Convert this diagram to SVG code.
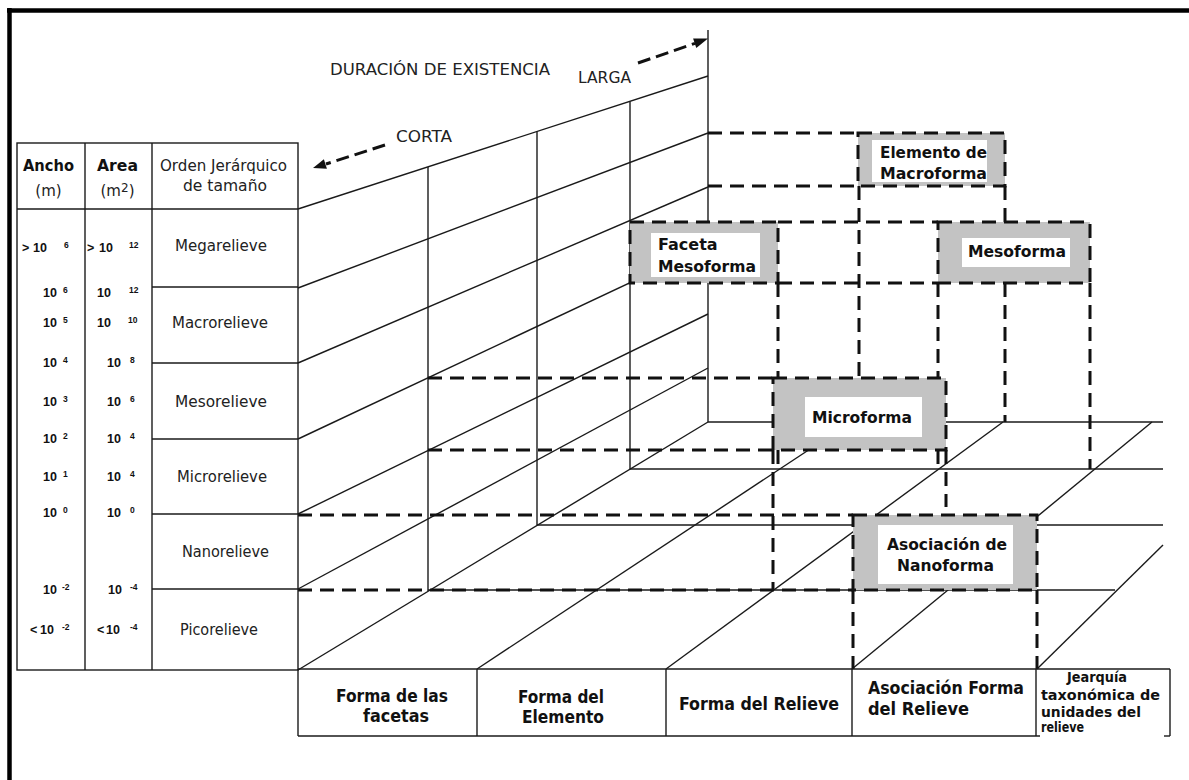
<svg xmlns="http://www.w3.org/2000/svg" width="1189" height="780" viewBox="0 0 1189 780">
<defs>
<style>
.ln{stroke:#1a1a1a;stroke-width:1.4;fill:none}
.dl{stroke:#111;stroke-width:3;stroke-dasharray:14 8;fill:none}
.ar{stroke:#111;stroke-width:3;stroke-dasharray:13 6;fill:none}
.box{fill:#c3c3c3;stroke:#111;stroke-width:3;stroke-dasharray:14 8}
.inner{fill:#fff}
.bx{font-family:'DejaVu Sans','Liberation Sans',sans-serif;font-weight:bold;font-size:16px;fill:#111}
.reg{font-family:'DejaVu Sans','Liberation Sans',sans-serif;font-size:15px;fill:#222}
.hb{font-family:'DejaVu Sans','Liberation Sans',sans-serif;font-weight:bold;font-size:15px;fill:#111}
.top{font-family:'DejaVu Sans','Liberation Sans',sans-serif;font-size:16px;fill:#222}
.num{font-family:'Liberation Sans',Arial,sans-serif;font-weight:bold;font-size:12.5px;fill:#111}
.sup{font-family:'Liberation Sans',Arial,sans-serif;font-weight:bold;font-size:8.5px;fill:#111}
.bt{font-family:'Liberation Sans Narrow','DejaVu Sans Condensed','Liberation Sans',sans-serif;font-weight:bold;font-size:18px;fill:#111}
.bs{font-family:'Liberation Sans Narrow','DejaVu Sans Condensed','Liberation Sans',sans-serif;font-weight:bold;font-size:14px;fill:#111}
</style>
</defs>
<rect x="0" y="0" width="1189" height="780" fill="#fff"/>

<g id="frame">
<line x1="7" y1="10.5" x2="1189" y2="10.5" stroke="#000" stroke-width="4.5"/>
<line x1="9.5" y1="8" x2="9.5" y2="780" stroke="#000" stroke-width="4.5"/>
</g>

<g id="grid" class="ln">
<line x1="298" y1="209" x2="708" y2="76"/>
<line x1="298" y1="288" x2="708" y2="133"/>
<line x1="298" y1="363" x2="708" y2="187"/>
<line x1="298" y1="439" x2="708" y2="246"/>
<line x1="298" y1="514" x2="708" y2="314"/>
<line x1="298" y1="589" x2="708" y2="368"/>
<line x1="298" y1="670" x2="708" y2="422"/>
<line x1="428" y1="167" x2="428" y2="591"/>
<line x1="537" y1="131.5" x2="537" y2="525"/>
<line x1="630" y1="101.5" x2="630" y2="469"/>
<line x1="708" y1="30" x2="708" y2="422"/>
<line x1="428" y1="590" x2="1115" y2="590"/>
<line x1="537" y1="525" x2="1163" y2="525"/>
<line x1="630" y1="469" x2="1163" y2="469"/>
<line x1="708" y1="422" x2="1163" y2="422"/>
<line x1="477" y1="669" x2="851" y2="422"/>
<line x1="666" y1="669" x2="1003" y2="422"/>
<line x1="852" y1="669" x2="1152" y2="422"/>
<line x1="1037" y1="669" x2="1163" y2="545"/>
</g>

<g id="connectors" class="dl">
<line x1="708" y1="133" x2="858" y2="133"/>
<line x1="708" y1="186" x2="858" y2="186"/>
<line x1="778" y1="222" x2="938" y2="222"/>
<line x1="778" y1="283" x2="938" y2="283"/>
<line x1="859" y1="186" x2="859" y2="378"/>
<line x1="778" y1="283" x2="778" y2="378"/>
<line x1="778" y1="450" x2="778" y2="469"/>
<line x1="938" y1="283" x2="938" y2="378"/>
<line x1="938" y1="450" x2="938" y2="469"/>
<line x1="1005" y1="186" x2="1005" y2="222"/>
<line x1="1005" y1="283" x2="1005" y2="422"/>
<line x1="1090" y1="283" x2="1090" y2="469"/>
<line x1="428" y1="378" x2="773" y2="378"/>
<line x1="428" y1="450" x2="773" y2="450"/>
<line x1="773" y1="450" x2="773" y2="590"/>
<line x1="946" y1="450" x2="946" y2="507"/>
<line x1="298" y1="515" x2="853" y2="515"/>
<line x1="298" y1="590" x2="853" y2="590"/>
<line x1="853" y1="590" x2="853" y2="669"/>
<line x1="1037" y1="590" x2="1037" y2="669"/>
</g>

<g id="arrows">
<line class="ar" x1="638" y1="63" x2="695" y2="43.3"/>
<polygon points="708,38.5 696.3,48 693.1,38.6" fill="#111"/>
<line class="ar" x1="385" y1="145" x2="326" y2="164"/>
<polygon points="313,168 326.9,168.8 323.9,159.3" fill="#111"/>
</g>

<g id="headings">
<text class="top" x="330" y="75" textLength="220" lengthAdjust="spacingAndGlyphs">DURACIÓN DE EXISTENCIA</text>
<text class="top" x="578" y="83" textLength="53" lengthAdjust="spacingAndGlyphs">LARGA</text>
<text class="top" x="396" y="142" textLength="56" lengthAdjust="spacingAndGlyphs">CORTA</text>
</g>

<g id="table-left">
<rect class="ln" x="17" y="143" width="281" height="527"/>
<line class="ln" x1="85" y1="143" x2="85" y2="670"/>
<line class="ln" x1="152" y1="143" x2="152" y2="670"/>
<line class="ln" x1="17" y1="209" x2="298" y2="209"/>
<line class="ln" x1="152" y1="287" x2="298" y2="287"/>
<line class="ln" x1="152" y1="363" x2="298" y2="363"/>
<line class="ln" x1="152" y1="439" x2="298" y2="439"/>
<line class="ln" x1="152" y1="514" x2="298" y2="514"/>
<line class="ln" x1="152" y1="589" x2="298" y2="589"/>
<text class="hb" x="23" y="170.5" textLength="51" lengthAdjust="spacingAndGlyphs">Ancho</text>
<text class="reg" x="48.5" y="196" text-anchor="middle" font-size="16">(m)</text>
<text class="hb" x="97" y="170.5" textLength="41" lengthAdjust="spacingAndGlyphs">Area</text>
<text class="reg" x="117.5" y="196" text-anchor="middle" font-size="16">(m<tspan font-size="12" dy="-4">2</tspan><tspan dy="4">)</tspan></text>
<text class="reg" x="160" y="170.5" textLength="127" lengthAdjust="spacingAndGlyphs">Orden Jerárquico</text>
<text class="reg" x="183" y="191" textLength="84" lengthAdjust="spacingAndGlyphs">de tamaño</text>
<text class="reg" x="175" y="251" textLength="92" lengthAdjust="spacingAndGlyphs">Megarelieve</text>
<text class="reg" x="172" y="328" textLength="96" lengthAdjust="spacingAndGlyphs">Macrorelieve</text>
<text class="reg" x="175" y="407" textLength="92" lengthAdjust="spacingAndGlyphs">Mesorelieve</text>
<text class="reg" x="177" y="482" textLength="90" lengthAdjust="spacingAndGlyphs">Microrelieve</text>
<text class="reg" x="182" y="557" textLength="87" lengthAdjust="spacingAndGlyphs">Nanorelieve</text>
<text class="reg" x="180" y="635" textLength="78" lengthAdjust="spacingAndGlyphs">Picorelieve</text>
<text class="num" x="22" y="252">&gt;</text><text class="num" x="33" y="252">10</text><text class="sup" x="64" y="248">6</text>
<text class="num" x="43" y="297">10</text><text class="sup" x="63" y="293">6</text>
<text class="num" x="43" y="327">10</text><text class="sup" x="63" y="323">5</text>
<text class="num" x="43" y="367">10</text><text class="sup" x="63" y="363">4</text>
<text class="num" x="43" y="406">10</text><text class="sup" x="63" y="402">3</text>
<text class="num" x="43" y="443">10</text><text class="sup" x="63" y="439">2</text>
<text class="num" x="43" y="481">10</text><text class="sup" x="63" y="477">1</text>
<text class="num" x="43" y="517">10</text><text class="sup" x="63" y="513">0</text>
<text class="num" x="43" y="594">10</text><text class="sup" x="62" y="590">-2</text>
<text class="num" x="30" y="634">&lt;</text><text class="num" x="40" y="634">10</text><text class="sup" x="62" y="630">-2</text>
<text class="num" x="87" y="252">&gt;</text><text class="num" x="99" y="252">10</text><text class="sup" x="129" y="248">12</text>
<text class="num" x="97" y="297">10</text><text class="sup" x="129" y="293">12</text>
<text class="num" x="97" y="327">10</text><text class="sup" x="128" y="323">10</text>
<text class="num" x="107" y="367">10</text><text class="sup" x="130" y="363">8</text>
<text class="num" x="107" y="406">10</text><text class="sup" x="130" y="402">6</text>
<text class="num" x="107" y="443">10</text><text class="sup" x="130" y="439">4</text>
<text class="num" x="107" y="481">10</text><text class="sup" x="130" y="477">4</text>
<text class="num" x="107" y="517">10</text><text class="sup" x="130" y="513">0</text>
<text class="num" x="108" y="594">10</text><text class="sup" x="130" y="590">-4</text>
<text class="num" x="97" y="634">&lt;</text><text class="num" x="106" y="634">10</text><text class="sup" x="130" y="630">-4</text>
</g>

<g id="table-bottom">
<line class="ln" x1="298" y1="669" x2="1170" y2="669"/>
<line class="ln" x1="298" y1="736" x2="1040" y2="736"/>
<line class="ln" x1="1164" y1="736" x2="1170" y2="736"/>
<line class="ln" x1="298" y1="669" x2="298" y2="736"/>
<line class="ln" x1="477" y1="669" x2="477" y2="736"/>
<line class="ln" x1="666" y1="669" x2="666" y2="736"/>
<line class="ln" x1="852" y1="669" x2="852" y2="736"/>
<line class="ln" x1="1036" y1="669" x2="1036" y2="736"/>
<line class="ln" x1="1170" y1="669" x2="1170" y2="736"/>
<text class="bt" x="392" y="702" text-anchor="middle" textLength="112" lengthAdjust="spacingAndGlyphs">Forma de las</text>
<text class="bt" x="396" y="722" text-anchor="middle" textLength="66" lengthAdjust="spacingAndGlyphs">facetas</text>
<text class="bt" x="561" y="703" text-anchor="middle" textLength="86" lengthAdjust="spacingAndGlyphs">Forma del</text>
<text class="bt" x="563" y="723" text-anchor="middle" textLength="82" lengthAdjust="spacingAndGlyphs">Elemento</text>
<text class="bt" x="759" y="710" text-anchor="middle" textLength="160" lengthAdjust="spacingAndGlyphs">Forma del Relieve</text>
<text class="bt" x="868" y="694" textLength="156" lengthAdjust="spacingAndGlyphs">Asociación Forma</text>
<text class="bt" x="868" y="715" textLength="101" lengthAdjust="spacingAndGlyphs">del Relieve</text>
<text class="bs" x="1067" y="682" textLength="60" lengthAdjust="spacingAndGlyphs">Jearquía</text>
<text class="bs" x="1041" y="700" textLength="119" lengthAdjust="spacingAndGlyphs">taxonómica de</text>
<text class="bs" x="1041" y="717" textLength="100" lengthAdjust="spacingAndGlyphs">unidades del</text>
<text class="bs" x="1041" y="732" textLength="43" lengthAdjust="spacingAndGlyphs">relieve</text>
</g>

<g id="node-elemento-macroforma">
<rect class="box" x="858" y="133" width="147" height="53"/>
<rect class="inner" x="872" y="140" width="115" height="42"/>
<text class="bx" x="880" y="157.5" textLength="107" lengthAdjust="spacingAndGlyphs">Elemento de</text>
<text class="bx" x="880" y="179" textLength="107" lengthAdjust="spacingAndGlyphs">Macroforma</text>
</g>

<g id="node-faceta-mesoforma">
<rect class="box" x="630" y="222" width="148" height="61"/>
<rect class="inner" x="651" y="233" width="109" height="44"/>
<text class="bx" x="658" y="250">Faceta</text>
<text class="bx" x="658" y="272" textLength="98" lengthAdjust="spacingAndGlyphs">Mesoforma</text>
</g>

<g id="node-mesoforma">
<rect class="box" x="938" y="222" width="152" height="61"/>
<rect class="inner" x="962" y="238" width="108" height="29"/>
<text class="bx" x="968" y="257" textLength="98" lengthAdjust="spacingAndGlyphs">Mesoforma</text>
</g>

<g id="node-microforma">
<rect class="box" x="773" y="378" width="173" height="72"/>
<rect class="inner" x="805" y="397" width="117" height="40"/>
<text class="bx" x="812" y="423" textLength="100" lengthAdjust="spacingAndGlyphs">Microforma</text>
</g>

<g id="node-asociacion-nanoforma">
<rect class="box" x="853" y="515" width="184" height="75"/>
<rect class="inner" x="878" y="525" width="135" height="59"/>
<text class="bx" x="887" y="550" textLength="120" lengthAdjust="spacingAndGlyphs">Asociación de</text>
<text class="bx" x="897" y="571" textLength="97" lengthAdjust="spacingAndGlyphs">Nanoforma</text>
</g>
</svg>
